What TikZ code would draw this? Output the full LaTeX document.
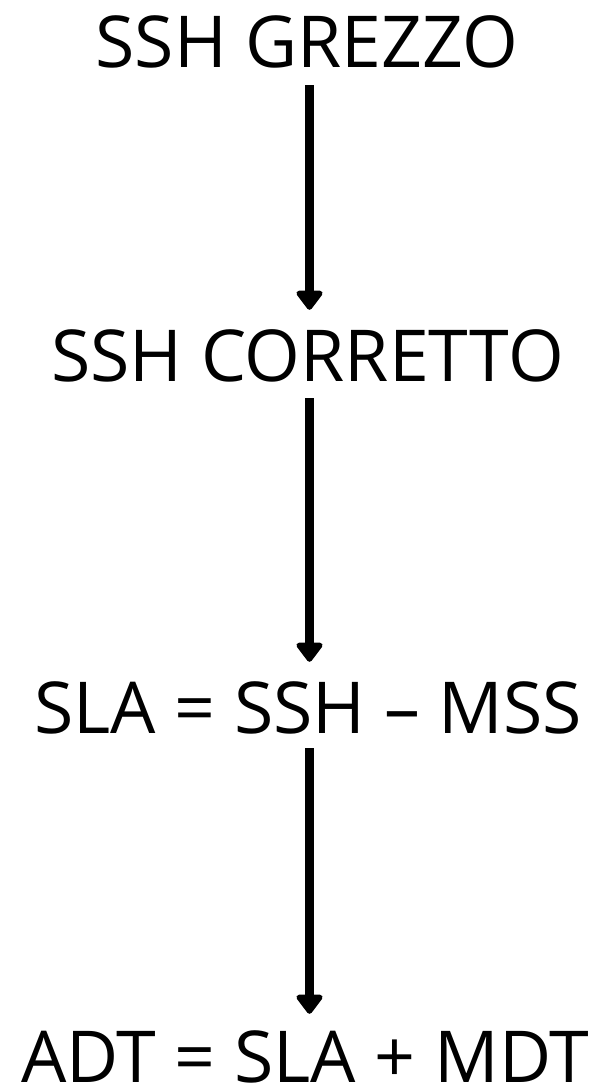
\documentclass[tikz,border=0pt]{standalone}
\usepackage{fontspec}
\setmainfont{Open Sans}
\usetikzlibrary{arrows.meta}
\begin{document}
\begin{tikzpicture}[x=1pt,y=1pt,
  lbl/.style={anchor=base,inner sep=0pt,text height=51pt,text depth=0pt,font=\fontsize{71.6}{80}\selectfont},
  flow/.style={line width=9pt,-{Triangle[width=30pt,length=21pt,round]}}]
\useasboundingbox (0,0) rectangle (596,-1087);
\node[lbl] (a) at (307,-67) {SSH GREZZO};
\node[lbl] (b) at (307.5,-381) {SSH CORRETTO};
\node[lbl] (c) at (308,-733) {SLA = SSH – MSS};
\node[lbl] (d) at (305,-1082) {ADT = SLA + MDT};
\draw[flow,shorten <=18pt,shorten >=20pt] (a.south -| 309.5,0) -- (b.north -| 309.5,0);
\draw[flow,shorten <=17pt,shorten >=20pt] (b.south -| 309.5,0) -- (c.north -| 309.5,0);
\draw[flow,shorten <=15pt,shorten >=17pt] (c.south -| 309.5,0) -- (d.north -| 309.5,0);
\end{tikzpicture}
\end{document}
